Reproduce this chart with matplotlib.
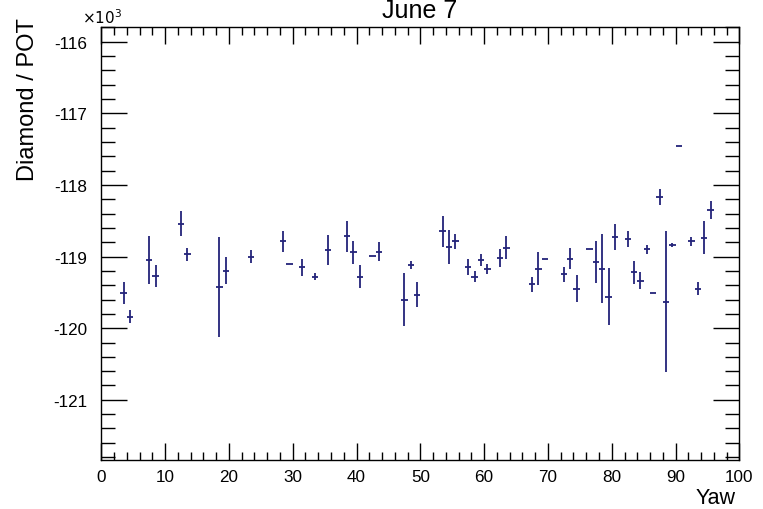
import matplotlib
matplotlib.use("Agg")
import matplotlib.pyplot as plt
from matplotlib.ticker import MultipleLocator

plt.rcParams["font.family"] = ["Liberation Sans", "DejaVu Sans"]

# bin centres (Yaw), bin content (x10^3) and error
yaw = [3.5, 4.5, 7.5, 8.5, 12.5, 13.5, 18.5, 19.5, 23.5, 28.5,
       29.5, 31.5, 33.5, 35.5, 38.5, 39.5, 40.5, 42.5, 43.5, 47.5,
       48.5, 49.5, 53.5, 54.5, 55.5, 57.5, 58.5, 59.5, 60.5, 62.5,
       63.5, 67.5, 68.5, 69.5, 72.5, 73.5, 74.5, 76.5, 77.5, 78.5,
       79.5, 80.5, 82.5, 83.5, 84.5, 85.5, 86.5, 87.5, 88.5, 89.5,
       90.5, 92.5, 93.5, 94.5, 95.5]
ratio = [-119.51, -119.84, -119.05, -119.27, -118.54, -118.97, -119.43, -119.20, -119.00, -118.79,
         -119.10, -119.15, -119.28, -118.91, -118.72, -118.94, -119.28, -118.99, -118.93, -119.60,
         -119.12, -119.53, -118.65, -118.87, -118.79, -119.15, -119.28, -119.05, -119.17, -119.02,
         -118.88, -119.39, -119.17, -119.04, -119.25, -119.03, -119.45, -118.90, -119.08, -119.17,
         -119.56, -118.73, -118.76, -119.22, -119.34, -118.90, -119.51, -118.17, -119.63, -118.84,
         -117.46, -118.79, -119.45, -118.74, -118.35]
ratio_err = [0.15, 0.09, 0.34, 0.15, 0.18, 0.09, 0.70, 0.19, 0.09, 0.14,
             0.0, 0.12, 0.05, 0.21, 0.22, 0.16, 0.16, 0.0, 0.13, 0.37,
             0.06, 0.17, 0.21, 0.24, 0.11, 0.11, 0.08, 0.08, 0.07, 0.13,
             0.16, 0.10, 0.23, 0.0, 0.11, 0.15, 0.19, 0.0, 0.29, 0.48,
             0.40, 0.18, 0.11, 0.16, 0.12, 0.06, 0.0, 0.11, 0.98, 0.03,
             0.0, 0.06, 0.09, 0.23, 0.12]
bin_halfwidth = 0.5

fig = plt.figure(figsize=(7.63, 5.10), dpi=100)
ax = fig.add_axes([0.1328, 0.0961, 0.8362, 0.8484])

ax.errorbar(yaw, ratio, xerr=bin_halfwidth, yerr=ratio_err, fmt="none",
            ecolor="#23237a", elinewidth=1.3, capsize=0)

ax.set_xlim(0, 100)
ax.set_ylim(-121.84, -115.80)

ax.xaxis.set_major_locator(MultipleLocator(10))
ax.xaxis.set_minor_locator(MultipleLocator(2))
ax.yaxis.set_major_locator(MultipleLocator(1))
ax.yaxis.set_minor_locator(MultipleLocator(0.2))
ax.yaxis.set_major_formatter(plt.FuncFormatter(lambda v, p: f"{v:.0f}"))

ax.tick_params(axis="both", which="both", direction="in", top=True, right=True,
               colors="black", width=1.0)
ax.tick_params(axis="x", which="major", length=12, pad=6.5, labelsize=12.3)
ax.tick_params(axis="x", which="minor", length=6)
ax.tick_params(axis="y", which="major", length=19, pad=10, labelsize=12.3)
ax.tick_params(axis="y", which="minor", length=10)
for s in ax.spines.values():
    s.set_linewidth(1.0)

fig.text(82 / 763, 1 - 18 / 510, r"$\times10^{3}$", fontsize=11, ha="left", va="center")
fig.text(28 / 763, 1 - 18 / 510, "Diamond / POT", rotation=90, fontsize=17,
         ha="center", va="top")
fig.text(736 / 763, 1 - 499 / 510, "Yaw", fontsize=15.5, ha="right", va="center")
fig.text(420 / 763, 1 - 18 / 510, "June 7", fontsize=18, ha="center", va="baseline")

fig.savefig("out.png", dpi=100)
